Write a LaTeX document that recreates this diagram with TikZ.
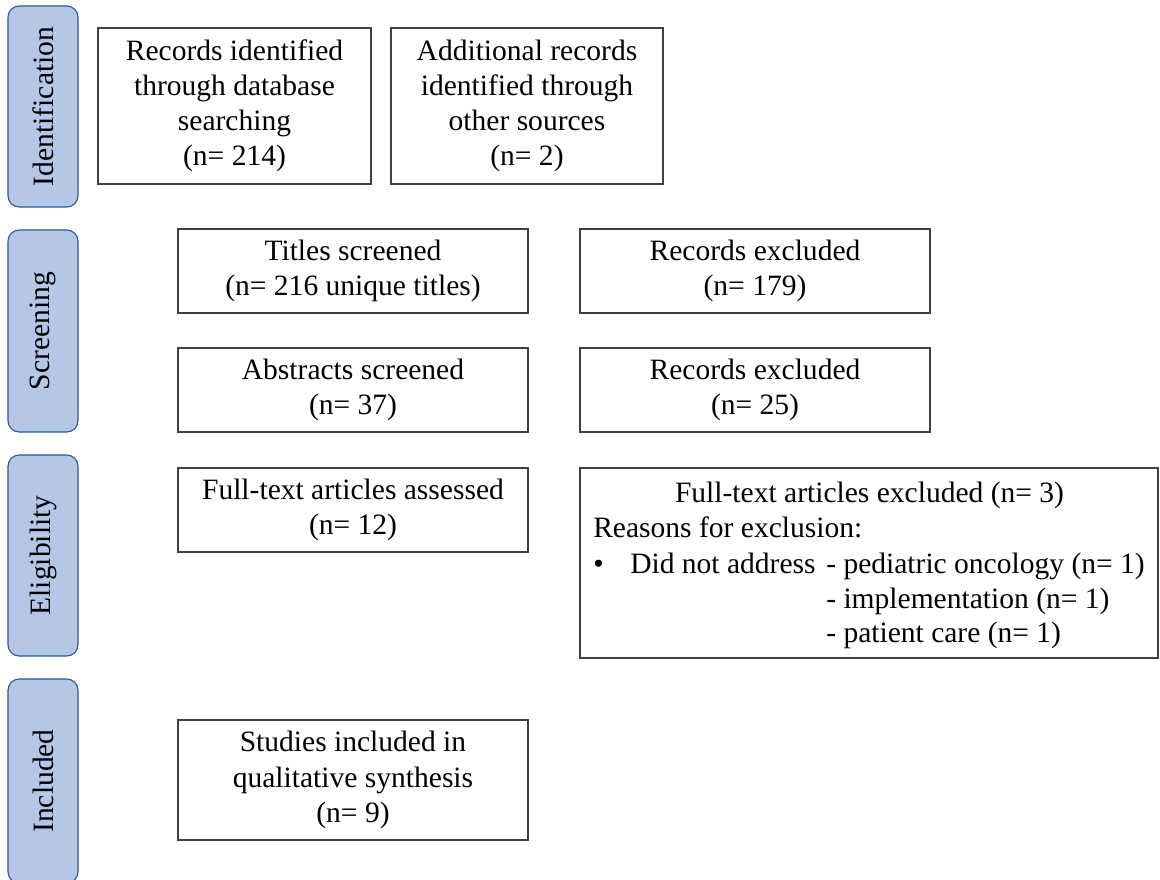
\documentclass[tikz,border=0pt]{standalone}
\usepackage{fontspec}
\setmainfont{Liberation Serif}
\usepackage{tikz}
\usetikzlibrary{positioning}
\definecolor{fasefill}{HTML}{B4C7E7}
\definecolor{faseline}{HTML}{2F5597}
\definecolor{cajaline}{HTML}{404040}

\begin{document}
\begin{tikzpicture}[x=0.025cm, y=-0.025cm,
    every node/.style={font=\fontsize{21}{25}\selectfont},
    fase/.style={draw=faseline, fill=fasefill, line width=0.8pt, rounded corners=8pt, rotate=90, minimum height=1.75cm, inner sep=0pt},
    caja/.style={draw=cajaline, line width=0.9pt, align=center, inner sep=0pt},
    linea/.style={inner sep=0pt}]
            \path[use as bounding box, clip] (0,0) rectangle (1160,880);
            % Etapas
            \node[fase, minimum width=5.025cm] (id) at (43,106.5) {Identification};
            \node[fase, minimum width=5.05cm] (scr) at (43,331) {Screening};
            \node[fase, minimum width=5.025cm] (elig) at (43,555.5) {Eligibility};
            \node[fase, minimum width=5.1cm] (inc) at (43,781) {Included};

            % Cajas
            \node[caja, minimum width=6.825cm, minimum height=3.9cm] (rec) at (234.5,106) {Records identified\\through database\\searching\\(n= 214)};
            \node[caja, minimum width=6.8cm, minimum height=3.9cm] (add) at (527,106) {Additional records\\identified through\\other sources\\(n= 2)};
            \node[caja, minimum width=8.75cm, minimum height=2.1cm] (tit) at (353,271) {Titles screened\\(n= 216 unique titles)};
            \node[caja, minimum width=8.75cm, minimum height=2.1cm] (exa) at (755,271) {Records excluded\\(n= 179)};
            \node[caja, minimum width=8.75cm, minimum height=2.1cm] (abs) at (353,390) {Abstracts screened\\(n= 37)};
            \node[caja, minimum width=8.75cm, minimum height=2.1cm] (exb) at (755,390) {Records excluded\\(n= 25)};
            \node[caja, minimum width=8.75cm, minimum height=2.1cm] (full) at (353,510) {Full-text articles assessed\\(n= 12)};
            \node[caja, minimum width=14.45cm, minimum height=4.75cm] (exc) at (869,563) {};
            \node[caja, minimum width=8.75cm, minimum height=3cm] (stud) at (353,780) {Studies included in\\qualitative synthesis\\(n= 9)};

            % Motivos
            \node[linea, anchor=base] (exhead) at (869.5,502) {Full-text articles excluded (n= 3)};
            \node[linea, anchor=base west] (exwhy) at (593,537) {Reasons for exclusion:};
            \node[linea, anchor=base west] (exdot) at (593,573) {\textbullet};
            \node[linea, anchor=base west] (exnot) at (630,573) {Did not address};
            \node[linea, anchor=base west] (exone) at (826,573) {- pediatric oncology (n= 1)};
            \node[linea, anchor=base west] (extwo) at (826,608) {- implementation (n= 1)};
            \node[linea, anchor=base west] (exthree) at (826,642) {- patient care (n= 1)};
          \end{tikzpicture}
\end{document}
